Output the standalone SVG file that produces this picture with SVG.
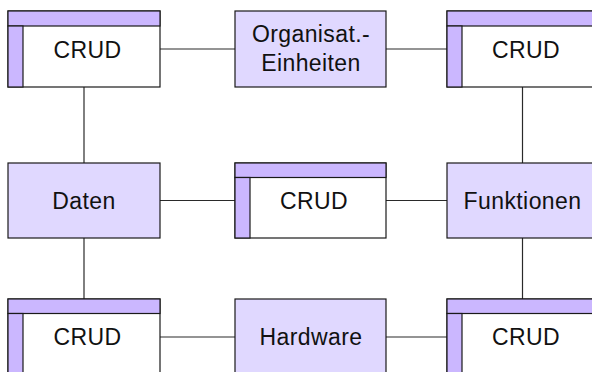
<svg xmlns="http://www.w3.org/2000/svg" width="592" height="372" viewBox="0 0 592 372">
<style>
.bg{fill:#ffffff}
.ent{fill:#e0d8ff;stroke:#1a1a1a;stroke-width:1.2}
.rel{fill:#ffffff;stroke:#1a1a1a;stroke-width:1.2}
.band{fill:#cbb7ff;stroke:#1a1a1a;stroke-width:1.2}
.conn line{stroke:#2a2a2a;stroke-width:1.2}
text{font-family:"Liberation Sans",Arial,sans-serif;font-size:23px;fill:#111111;text-anchor:middle;letter-spacing:0.4px}
</style>
<rect class="bg" x="0" y="0" width="592" height="372"/>
<g id="connectors" class="conn">
<line x1="160" y1="49" x2="235" y2="49"/>
<line x1="386" y1="49" x2="447" y2="49"/>
<line x1="84" y1="87" x2="84" y2="163"/>
<line x1="522.5" y1="87" x2="522.5" y2="163"/>
<line x1="160" y1="200.5" x2="235" y2="200.5"/>
<line x1="386" y1="200.5" x2="447" y2="200.5"/>
<line x1="84" y1="238" x2="84" y2="299"/>
<line x1="522.5" y1="238" x2="522.5" y2="299"/>
<line x1="160" y1="337" x2="235" y2="337"/>
<line x1="386" y1="337" x2="447" y2="337"/>
</g>
<g id="crud-top-left">
<rect class="rel" x="8" y="11" width="152" height="76"/>
<rect class="band" x="8" y="11" width="152" height="15"/>
<rect class="band" x="8" y="26" width="15" height="61"/>
<text x="87.5" y="57.5">CRUD</text>
</g>
<g id="organisat">
<rect class="ent" x="235" y="11" width="151" height="76"/>
<text x="311" y="41.5">Organisat.-</text>
<text x="311" y="71">Einheiten</text>
</g>
<g id="crud-top-right">
<rect class="rel" x="447" y="11" width="151" height="76"/>
<rect class="band" x="447" y="11" width="151" height="15"/>
<rect class="band" x="447" y="26" width="15" height="61"/>
<text x="526" y="57.5">CRUD</text>
</g>
<g id="daten">
<rect class="ent" x="8" y="163" width="152" height="75"/>
<text x="84" y="209">Daten</text>
</g>
<g id="crud-middle">
<rect class="rel" x="235" y="163" width="151" height="75"/>
<rect class="band" x="235" y="163" width="151" height="14.5"/>
<rect class="band" x="235" y="177.5" width="15" height="60.5"/>
<text x="314" y="209">CRUD</text>
</g>
<g id="funktionen">
<rect class="ent" x="447" y="163" width="151" height="75"/>
<text x="522.5" y="209">Funktionen</text>
</g>
<g id="crud-bottom-left">
<rect class="rel" x="8" y="299" width="152" height="76"/>
<rect class="band" x="8" y="299" width="152" height="14.5"/>
<rect class="band" x="8" y="313.5" width="15" height="61.5"/>
<text x="87.5" y="345">CRUD</text>
</g>
<g id="hardware">
<rect class="ent" x="235" y="299" width="151" height="76"/>
<text x="311" y="345">Hardware</text>
</g>
<g id="crud-bottom-right">
<rect class="rel" x="447" y="299" width="151" height="76"/>
<rect class="band" x="447" y="299" width="151" height="14.5"/>
<rect class="band" x="447" y="313.5" width="15" height="61.5"/>
<text x="526" y="345">CRUD</text>
</g>
</svg>
